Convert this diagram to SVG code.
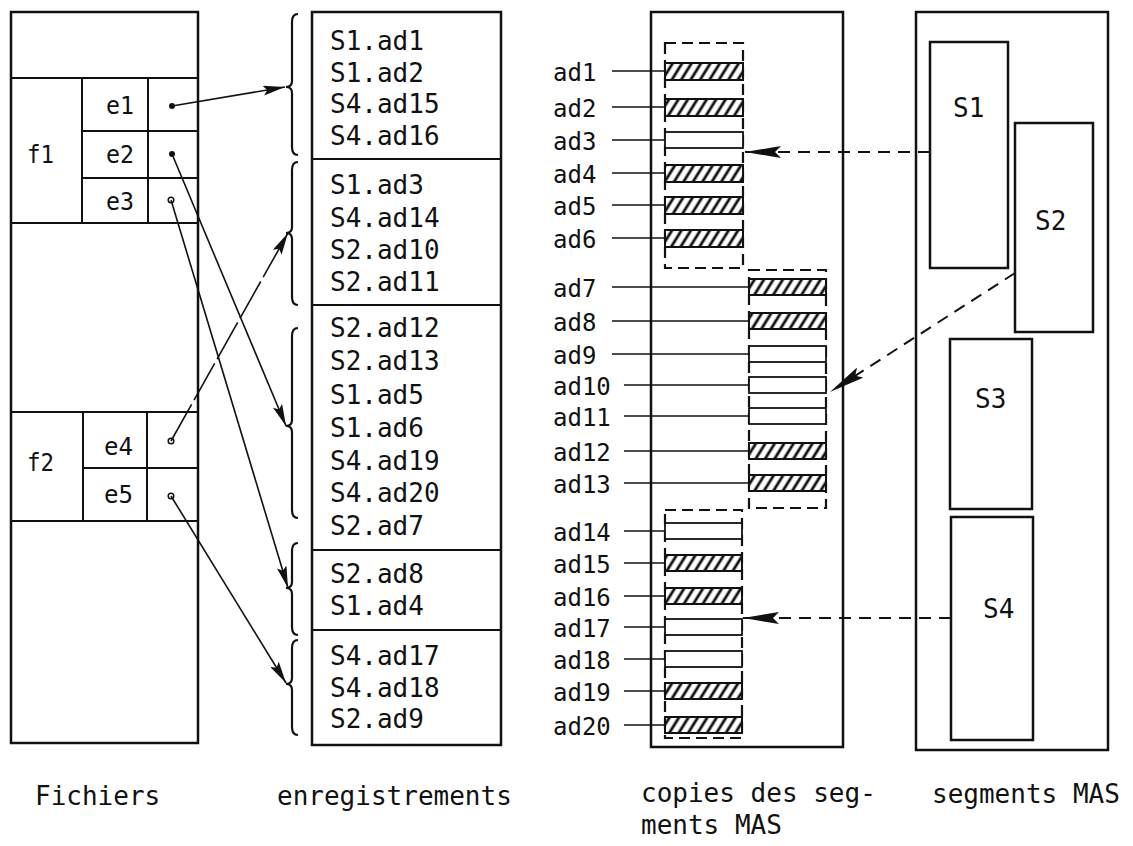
<svg xmlns="http://www.w3.org/2000/svg" width="1133" height="846" viewBox="0 0 1133 846">
<style>
.box{fill:none;stroke:#111;stroke-width:2.5}
.ln{stroke:#111;stroke-width:2;fill:none}
.thin{stroke:#111;stroke-width:1.5;fill:none}
.t{font-family:"DejaVu Sans Mono","Liberation Mono",monospace;fill:#111}
.rec{font-size:26px}
.lab{font-size:24px}
.e{font-size:25px}
.cap{font-size:26px}
.grp{fill:none;stroke:#111;stroke-width:2.2;stroke-dasharray:11 6}
.hat{fill:url(#hatch);stroke:#111;stroke-width:2}
.emp{fill:#fff;stroke:#111;stroke-width:1.8}
.arr{stroke:#111;stroke-width:1.6;fill:none;marker-end:url(#sh)}
.darr{stroke:#111;stroke-width:2;fill:none;stroke-dasharray:12 8;marker-end:url(#bh)}
.brace{fill:none;stroke:#111;stroke-width:2.2}
</style>
<defs>
<pattern id="hatch" patternUnits="userSpaceOnUse" width="8" height="20" patternTransform="rotate(32)">
<rect width="8" height="20" fill="#fff"/>
<line x1="4" y1="0" x2="4" y2="20" stroke="#111" stroke-width="2.8"/>
</pattern>
<marker id="sh" markerUnits="userSpaceOnUse" markerWidth="22" markerHeight="10" refX="22" refY="5" orient="auto" viewBox="0 0 22 10">
<path d="M0,0 L22,5 L0,10 L4,5 z" fill="#111"/>
</marker>
<marker id="bh" markerUnits="userSpaceOnUse" markerWidth="36" markerHeight="12" refX="36" refY="6" orient="auto" viewBox="0 0 36 12">
<path d="M0,0 L36,6 L0,12 L6,6 z" fill="#111"/>
</marker>
</defs>

<g id="fichiers">
<rect class="box" x="11" y="12" width="187" height="731"/>
<line class="ln" x1="11" y1="78" x2="198" y2="78"/>
<line class="ln" x1="11" y1="223" x2="198" y2="223"/>
<line class="ln" x1="82" y1="78" x2="82" y2="223"/>
<line class="ln" x1="148" y1="78" x2="148" y2="223"/>
<line class="ln" x1="82" y1="131" x2="198" y2="131"/>
<line class="ln" x1="82" y1="178" x2="198" y2="178"/>
<line class="ln" x1="11" y1="412" x2="198" y2="412"/>
<line class="ln" x1="11" y1="521" x2="198" y2="521"/>
<line class="ln" x1="83" y1="412" x2="83" y2="521"/>
<line class="ln" x1="147" y1="412" x2="147" y2="521"/>
<line class="ln" x1="83" y1="468" x2="198" y2="468"/>
<text class="t e" x="27" y="163" textLength="27" lengthAdjust="spacingAndGlyphs">f1</text>
<text class="t e" x="27" y="471" textLength="27" lengthAdjust="spacingAndGlyphs">f2</text>
<text class="t e" x="106" y="114" textLength="28" lengthAdjust="spacingAndGlyphs">e1</text>
<text class="t e" x="106" y="163" textLength="28" lengthAdjust="spacingAndGlyphs">e2</text>
<text class="t e" x="106" y="210" textLength="28" lengthAdjust="spacingAndGlyphs">e3</text>
<text class="t e" x="104" y="455" textLength="29" lengthAdjust="spacingAndGlyphs">e4</text>
<text class="t e" x="104" y="503" textLength="29" lengthAdjust="spacingAndGlyphs">e5</text>
<circle cx="172" cy="106" r="3" fill="#111"/>
<circle cx="172" cy="154" r="3" fill="#111"/>
<circle cx="171" cy="200" r="2.8" fill="#fff" stroke="#111" stroke-width="1.5"/>
<circle cx="171" cy="441" r="2.8" fill="#fff" stroke="#111" stroke-width="1.5"/>
<circle cx="171" cy="496" r="2.8" fill="#fff" stroke="#111" stroke-width="1.5"/>
</g>

<g id="enregistrements">
<rect class="box" x="312" y="12" width="189" height="733"/>
<line class="ln" x1="312" y1="159" x2="501" y2="159"/>
<line class="ln" x1="312" y1="305" x2="501" y2="305"/>
<line class="ln" x1="312" y1="550" x2="501" y2="550"/>
<line class="ln" x1="312" y1="630" x2="501" y2="630"/>
<g class="t rec">
<text x="330" y="50">S1.ad1</text>
<text x="330" y="82">S1.ad2</text>
<text x="330" y="113">S4.ad15</text>
<text x="330" y="145">S4.ad16</text>
<text x="330" y="194">S1.ad3</text>
<text x="330" y="227">S4.ad14</text>
<text x="330" y="259">S2.ad10</text>
<text x="330" y="291">S2.ad11</text>
<text x="330" y="337">S2.ad12</text>
<text x="330" y="370">S2.ad13</text>
<text x="330" y="404">S1.ad5</text>
<text x="330" y="437">S1.ad6</text>
<text x="330" y="470">S4.ad19</text>
<text x="330" y="502">S4.ad20</text>
<text x="330" y="535">S2.ad7</text>
<text x="330" y="583">S2.ad8</text>
<text x="330" y="615">S1.ad4</text>
<text x="330" y="665">S4.ad17</text>
<text x="330" y="697">S4.ad18</text>
<text x="330" y="728">S2.ad9</text>
</g>
</g>

<g id="braces">
<path class="brace" d="M298,14 Q292,14 292,22 L292,81 Q292,87 286,87 Q292,87 292,93 L292,147 Q292,155 298,155"/>
<path class="brace" d="M298,162 Q292,162 292,170 L292,227 Q292,233 286,233 Q292,233 292,239 L292,297 Q292,305 298,305"/>
<path class="brace" d="M298,328 Q292,328 292,336 L292,420 Q292,426 286,426 Q292,426 292,432 L292,510 Q292,518 298,518"/>
<path class="brace" d="M298,543 Q292,543 292,551 L292,582 Q292,588 286,588 Q292,588 292,594 L292,627 Q292,635 298,635"/>
<path class="brace" d="M298,640 Q292,640 292,648 L292,678 Q292,684 286,684 Q292,684 292,690 L292,727 Q292,735 298,735"/>
</g>

<g id="copies">
<rect class="box" x="651" y="12" width="192" height="735"/>
<rect class="grp" x="665" y="43" width="78" height="225"/>
<rect class="grp" x="749" y="270" width="77" height="238"/>
<rect class="grp" x="665" y="510" width="77" height="228"/>
<g class="t lab">
<text x="553" y="81">ad1</text>
<text x="553" y="117">ad2</text>
<text x="553" y="150">ad3</text>
<text x="553" y="183">ad4</text>
<text x="553" y="215">ad5</text>
<text x="553" y="248">ad6</text>
<text x="553" y="297">ad7</text>
<text x="553" y="331">ad8</text>
<text x="553" y="364">ad9</text>
<text x="553" y="395">ad10</text>
<text x="553" y="426">ad11</text>
<text x="553" y="461">ad12</text>
<text x="553" y="493">ad13</text>
<text x="553" y="541">ad14</text>
<text x="553" y="573">ad15</text>
<text x="553" y="606">ad16</text>
<text x="553" y="637">ad17</text>
<text x="553" y="669">ad18</text>
<text x="553" y="701">ad19</text>
<text x="553" y="735">ad20</text>
</g>
<g class="thin">
<line x1="612" y1="71" x2="665" y2="71"/>
<line x1="612" y1="107" x2="665" y2="107"/>
<line x1="612" y1="140" x2="665" y2="140"/>
<line x1="612" y1="173" x2="665" y2="173"/>
<line x1="612" y1="205" x2="665" y2="205"/>
<line x1="612" y1="238" x2="665" y2="238"/>
<line x1="612" y1="287" x2="749" y2="287"/>
<line x1="612" y1="321" x2="749" y2="321"/>
<line x1="612" y1="354" x2="749" y2="354"/>
<line x1="624" y1="385" x2="749" y2="385"/>
<line x1="624" y1="416" x2="749" y2="416"/>
<line x1="624" y1="451" x2="749" y2="451"/>
<line x1="624" y1="483" x2="749" y2="483"/>
<line x1="624" y1="531" x2="665" y2="531"/>
<line x1="624" y1="563" x2="665" y2="563"/>
<line x1="624" y1="596" x2="665" y2="596"/>
<line x1="624" y1="627" x2="665" y2="627"/>
<line x1="624" y1="659" x2="665" y2="659"/>
<line x1="624" y1="691" x2="665" y2="691"/>
<line x1="624" y1="725" x2="665" y2="725"/>
</g>
<rect class="hat" x="665" y="63" width="78" height="17"/>
<rect class="hat" x="665" y="99" width="78" height="17"/>
<rect class="emp" x="665" y="132" width="78" height="16"/>
<rect class="hat" x="665" y="165" width="78" height="17"/>
<rect class="hat" x="665" y="197" width="78" height="17"/>
<rect class="hat" x="665" y="230" width="78" height="17"/>
<rect class="hat" x="749" y="279" width="77" height="16"/>
<rect class="hat" x="749" y="313" width="77" height="16"/>
<rect class="emp" x="749" y="346" width="77" height="16"/>
<rect class="emp" x="749" y="377" width="77" height="16"/>
<rect class="emp" x="749" y="408" width="77" height="16"/>
<rect class="hat" x="749" y="443" width="77" height="16"/>
<rect class="hat" x="749" y="475" width="77" height="16"/>
<rect class="emp" x="665" y="523" width="77" height="16"/>
<rect class="hat" x="665" y="555" width="77" height="16"/>
<rect class="hat" x="665" y="588" width="77" height="16"/>
<rect class="emp" x="665" y="619" width="77" height="16"/>
<rect class="emp" x="665" y="651" width="77" height="16"/>
<rect class="hat" x="665" y="683" width="77" height="16"/>
<rect class="hat" x="665" y="717" width="77" height="16"/>
</g>

<g id="segments">
<rect class="box" x="916" y="12" width="192" height="738"/>
<rect class="box" x="930" y="42" width="78" height="226"/>
<rect class="box" x="1015" y="123" width="78" height="209"/>
<rect class="box" x="950" y="339" width="82" height="170"/>
<rect class="box" x="951" y="517" width="82" height="223"/>
<text class="t rec" x="953" y="117">S1</text>
<text class="t rec" x="1035" y="230">S2</text>
<text class="t rec" x="975" y="408">S3</text>
<text class="t rec" x="983" y="618">S4</text>
</g>

<g id="connectors">
<line class="arr" x1="172" y1="106" x2="285" y2="87"/>
<line class="arr" x1="172" y1="154" x2="286" y2="426"/>
<line class="arr" x1="171" y1="200" x2="288" y2="588"/>
<line class="arr" x1="171" y1="441" x2="288" y2="233" stroke-dasharray="42 5"/>
<line class="arr" x1="171" y1="496" x2="286" y2="683"/>
<line class="darr" x1="930" y1="152" x2="745" y2="152"/>
<line class="darr" x1="1015" y1="273" x2="830" y2="392"/>
<line class="darr" x1="951" y1="618" x2="743" y2="618"/>
</g>

<g id="captions" class="t cap">
<text x="35" y="805">Fichiers</text>
<text x="277" y="805">enregistrements</text>
<text x="641" y="802">copies des seg-</text>
<text x="641" y="834">ments MAS</text>
<text x="932" y="803">segments MAS</text>
</g>
</svg>
